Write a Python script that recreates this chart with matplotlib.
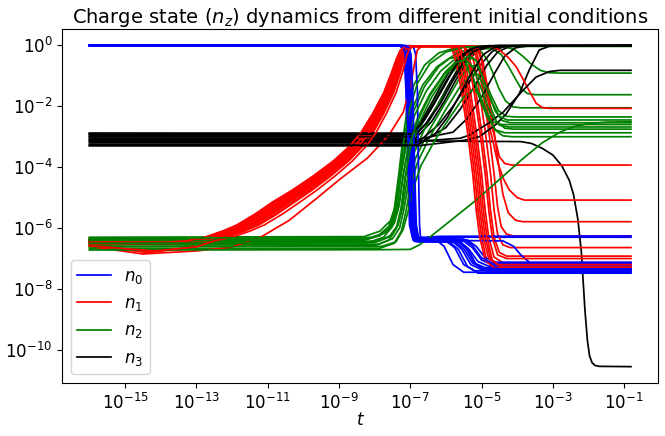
import numpy as np
import matplotlib
matplotlib.use('Agg')
import matplotlib.pyplot as plt

# all curves are digitised knots (log10 t, log10 n_z), one list per run
# n0 : neutral fraction
n0_runs = [
    [(-16, 0), (-7.32, -0.01), (-7.22, -0.08), (-7.17, -0.3), (-7.12, -1.5), (-7.07, -4.0), (-7.02, -5.9), (-6.94, -6.3), (-0.81, -6.3)],
    [(-16, 0), (-7.28, -0.01), (-7.18, -0.08), (-7.13, -0.3), (-7.08, -1.5), (-7.03, -4.0), (-6.98, -5.9), (-6.9, -6.35), (-6.3, -6.37), (-6.05, -6.6), (-5.8, -7.2), (-5.5, -7.45), (-0.81, -7.45)],
    [(-16, 0), (-7.25, -0.01), (-7.15, -0.08), (-7.1, -0.3), (-7.05, -1.5), (-7.0, -4.0), (-6.95, -5.9), (-6.87, -6.4), (-6.0, -6.42), (-5.75, -6.65), (-5.5, -7.2), (-5.2, -7.4), (-0.81, -7.4)],
    [(-16, 0), (-7.22, -0.01), (-7.12, -0.08), (-7.07, -0.3), (-7.02, -1.5), (-6.97, -4.0), (-6.92, -5.9), (-6.84, -6.42), (-5.8, -6.45), (-5.55, -6.7), (-5.3, -7.2), (-5.0, -7.36), (-0.81, -7.36)],
    [(-16, 0), (-7.2, -0.01), (-7.1, -0.08), (-7.05, -0.3), (-7.0, -1.5), (-6.95, -4.0), (-6.9, -5.9), (-6.82, -6.38), (-5.7, -6.41), (-5.45, -6.65), (-5.2, -7.15), (-4.9, -7.3), (-0.81, -7.3)],
    [(-16, 0), (-7.18, -0.01), (-7.08, -0.08), (-7.03, -0.3), (-6.98, -1.5), (-6.93, -4.0), (-6.88, -5.9), (-6.8, -6.45), (-5.6, -6.47), (-5.35, -6.7), (-5.1, -7.1), (-4.8, -7.25), (-0.81, -7.25)],
    [(-16, 0), (-7.3, -0.01), (-7.2, -0.08), (-7.15, -0.3), (-7.1, -1.5), (-7.05, -4.0), (-7.0, -5.9), (-6.92, -6.4), (-5.5, -6.43), (-5.25, -6.65), (-5.0, -7.05), (-4.7, -7.2), (-0.81, -7.2)],
    [(-16, 0), (-7.16, -0.01), (-7.06, -0.08), (-7.01, -0.3), (-6.96, -1.5), (-6.91, -4.0), (-6.86, -5.9), (-6.78, -6.36), (-5.4, -6.39), (-5.15, -6.6), (-4.9, -6.97), (-4.6, -7.12), (-0.81, -7.12)],
    [(-16, 0), (-7.0, -0.01), (-6.9, -0.08), (-6.85, -0.3), (-6.8, -1.5), (-6.77, -4.0), (-6.74, -5.9), (-6.7, -6.45), (-6.5, -6.3), (-6.2, -6.27), (-0.81, -6.26)],
    [(-16, 0), (-7.24, -0.01), (-7.14, -0.08), (-7.09, -0.3), (-7.04, -1.5), (-6.99, -4.0), (-6.94, -5.9), (-6.86, -6.4), (-4.4, -6.42), (-4.1, -6.6), (-3.9, -6.88), (-3.68, -7.1)],
    [(-16, 0), (-7.26, -0.01), (-7.16, -0.08), (-7.11, -0.3), (-7.06, -1.5), (-7.01, -4.0), (-6.96, -5.9), (-6.88, -6.44), (-5.9, -6.46), (-5.65, -6.7), (-5.4, -7.25), (-5.1, -7.48), (-0.81, -7.48)],
    [(-16, 0), (-7.21, -0.01), (-7.11, -0.08), (-7.06, -0.3), (-7.01, -1.5), (-6.96, -4.0), (-6.91, -5.9), (-6.83, -6.33), (-5.5, -6.36), (-5.25, -6.58), (-5.0, -6.98), (-4.7, -7.15), (-0.81, -7.15)],
    [(-16, 0), (-7.29, -0.01), (-7.19, -0.08), (-7.14, -0.3), (-7.09, -1.5), (-7.04, -4.0), (-6.99, -5.9), (-6.91, -6.37), (-5.65, -6.4), (-5.4, -6.65), (-5.15, -7.2), (-4.85, -7.42), (-0.81, -7.42)],
    [(-16, 0), (-7.13, -0.01), (-7.03, -0.08), (-6.98, -0.3), (-6.93, -1.5), (-6.88, -4.0), (-6.83, -5.9), (-6.75, -6.41), (-5.75, -6.44), (-5.5, -6.68), (-5.25, -7.15), (-4.95, -7.33), (-0.81, -7.33)],
]

# n1 : digitised centre line of the red band, plus how wide the band is
# at each knot (1 = widest, lower part) and where each run sits in it
n1_rise = [(-12.95, -6.42), (-12.45, -6.3), (-11.95, -6.1), (-11.55, -5.9), (-11.05, -5.55), (-10.55, -5.15),
           (-10.02, -4.75), (-9.48, -4.3), (-8.94, -3.8), (-8.5, -3.3), (-8.2, -2.85), (-7.9, -2.25),
           (-7.6, -1.55), (-7.4, -0.9), (-7.28, -0.45), (-7.18, -0.15), (-7.05, -0.03)]
n1_spread = [1, 1, 1, 1, 1, 1, 0.9, 0.8, 0.7, 0.6, 0.55, 0.5, 0.45, 0.4, 0.35, 0.3, 0.3]
n1_shift = [-0.28, -0.16, -0.04, 0.06, 0.16, 0.24, -0.22, 0.3, None, 0.0, -0.1, 0.11, -0.32, 0.45]
n1_start = [
    [(-16, -6.45), (-13.5, -6.45)],
    [(-16, -6.5), (-14.5, -6.78), (-13.4, -6.7)],
    [(-16, -6.4), (-13.5, -6.42)],
    [(-16, -6.55), (-13.5, -6.5)],
    [(-16, -6.38), (-13.5, -6.4)],
    [(-16, -6.6), (-14.3, -6.8), (-13.3, -6.65)],
    [(-16, -6.42), (-13.8, -6.43)],
    [(-16, -6.48), (-13.3, -6.47)],
    [],
    [(-16, -6.35), (-13.5, -6.38)],
    [(-16, -6.52), (-13.5, -6.5)],
    [(-16, -6.44), (-13.5, -6.44)],
    [(-16, -6.46), (-13.8, -6.46)],
    [(-16, -6.58), (-14.2, -6.75), (-13.0, -6.62)],
]
n1_late_rise = [(-16, -6.6), (-14.5, -6.85), (-13, -6.75), (-12, -6.62), (-11.2, -6.3), (-10.4, -5.75),
                (-9.6, -5.0), (-9.0, -4.42), (-8.2, -3.7), (-7.6, -2.95), (-7.2, -2.2), (-7.0, -1.4),
                (-6.88, -0.6), (-6.8, -0.15), (-6.68, -0.03)]
n1_fall = [
    [(-5.8, -0.03), (-5.65, -0.6), (-5.5, -1.6), (-5.35, -2.8), (-5.2, -4.2), (-5.1, -5.4), (-5.0, -6.3), (-4.85, -7.1), (-4.6, -7.35), (-0.81, -7.35)],
    [(-5.7, -0.03), (-5.55, -0.6), (-5.4, -1.6), (-5.25, -2.8), (-5.1, -4.2), (-5.0, -5.4), (-4.9, -6.3), (-4.75, -7.0), (-4.5, -7.25), (-0.81, -7.25)],
    [(-5.6, -0.03), (-5.45, -0.6), (-5.3, -1.6), (-5.15, -2.8), (-5.0, -4.2), (-4.9, -5.4), (-4.8, -6.3), (-4.65, -6.95), (-4.4, -7.14), (-0.81, -7.14)],
    [(-5.45, -0.03), (-5.3, -0.6), (-5.15, -1.6), (-5.0, -2.8), (-4.85, -4.2), (-4.75, -5.4), (-4.65, -6.3), (-4.5, -6.8), (-4.3, -6.92), (-0.81, -6.92)],
    [(-5.35, -0.03), (-5.2, -0.6), (-5.05, -1.6), (-4.9, -2.8), (-4.75, -4.2), (-4.65, -5.4), (-4.55, -6.2), (-4.4, -6.55), (-4.2, -6.64), (-0.81, -6.64)],
    [(-5.25, -0.03), (-5.1, -0.6), (-4.95, -1.6), (-4.8, -2.8), (-4.65, -4.2), (-4.55, -5.3), (-4.45, -5.95), (-4.3, -6.2), (-4.1, -6.26), (-0.81, -6.26)],
    [(-5.1, -0.03), (-4.95, -0.6), (-4.8, -1.6), (-4.65, -2.8), (-4.5, -4.1), (-4.4, -4.9), (-4.25, -5.5), (-4.05, -5.74), (-3.85, -5.79), (-0.81, -5.79)],
    [(-5.2, -0.03), (-5.05, -0.6), (-4.9, -1.6), (-4.75, -2.8), (-4.54, -3.88), (-4.38, -4.4), (-4.22, -4.75), (-4.0, -5.0), (-3.8, -5.08), (-0.81, -5.08)],
    [(-5.15, -0.03), (-5.0, -0.5), (-4.85, -1.5), (-4.68, -2.79), (-4.5, -3.66), (-4.35, -3.88), (-4.15, -3.93), (-0.81, -3.93)],
    [(-4.75, -0.03), (-4.5, -0.15), (-4.25, -0.4), (-4.03, -0.7), (-3.84, -1.1), (-3.66, -1.5), (-3.47, -1.9), (-3.3, -2.04), (-3.1, -2.07), (-0.81, -2.07)],
    [(-5.85, -0.03), (-5.7, -0.6), (-5.55, -1.6), (-5.4, -2.8), (-5.25, -4.2), (-5.15, -5.4), (-5.05, -6.3), (-4.9, -7.05), (-4.65, -7.3), (-0.81, -7.3)],
    [(-5.75, -0.03), (-5.6, -0.6), (-5.45, -1.6), (-5.3, -2.8), (-5.15, -4.2), (-5.05, -5.4), (-4.95, -6.3), (-4.8, -7.0), (-4.55, -7.2), (-0.81, -7.2)],
    [(-5.5, -0.03), (-5.35, -0.6), (-5.2, -1.6), (-5.05, -2.8), (-4.9, -4.2), (-4.8, -5.4), (-4.7, -6.3), (-4.55, -6.88), (-4.3, -7.0), (-0.81, -7.0)],
    [(-5.65, -0.03), (-5.5, -0.6), (-5.35, -1.6), (-5.2, -2.8), (-5.05, -4.2), (-4.95, -5.4), (-4.85, -6.3), (-4.7, -7.05), (-4.45, -7.28), (-0.81, -7.28)],
]

# n2
n2_runs = [
    [(-16, -6.4), (-8.4, -6.38), (-7.9, -6.25), (-7.6, -5.95), (-7.45, -5.4), (-7.33, -4.3), (-7.22, -3.2), (-7.1, -2.2), (-6.9, -1.3), (-6.6, -0.65), (-6.2, -0.25), (-5.7, -0.07), (-5.2, -0.03), (-0.81, -0.03)],
    [(-16, -6.5), (-8.2, -6.48), (-7.75, -6.3), (-7.5, -5.95), (-7.38, -5.4), (-7.26, -4.2), (-7.12, -3.1), (-6.92, -2.2), (-6.6, -1.35), (-6.2, -0.7), (-5.7, -0.25), (-5.2, -0.08), (-4.4, -0.05), (-4.1, -0.12), (-3.85, -0.35), (-3.6, -0.62), (-3.35, -0.82), (-3.1, -0.9), (-2.8, -0.91), (-0.81, -0.91)],
    [(-16, -6.35), (-8.1, -6.33), (-7.7, -6.15), (-7.45, -5.85), (-7.32, -5.3), (-7.2, -4.3), (-7.05, -3.3), (-6.8, -2.4), (-6.45, -1.6), (-6.0, -0.85), (-5.55, -0.35), (-5.1, -0.12), (-4.7, -0.1), (-4.45, -0.3), (-4.25, -0.68), (-4.05, -1.1), (-3.9, -1.4), (-3.72, -1.58), (-3.5, -1.62), (-0.81, -1.62)],
    [(-16, -6.6), (-8.0, -6.58), (-7.6, -6.4), (-7.38, -6.0), (-7.25, -5.4), (-7.14, -4.4), (-6.98, -3.5), (-6.72, -2.7), (-6.35, -1.85), (-5.9, -1.0), (-5.5, -0.45), (-5.2, -0.2), (-5.0, -0.22), (-4.85, -0.45), (-4.7, -0.85), (-4.52, -1.4), (-4.33, -1.82), (-4.12, -2.02), (-3.9, -2.05), (-0.81, -2.05)],
    [(-16, -6.45), (-7.95, -6.43), (-7.55, -6.25), (-7.34, -5.9), (-7.22, -5.35), (-7.1, -4.5), (-6.92, -3.6), (-6.62, -2.8), (-6.2, -1.9), (-5.75, -1.05), (-5.45, -0.55), (-5.25, -0.4), (-5.1, -0.55), (-4.95, -0.95), (-4.75, -1.6), (-4.52, -2.15), (-4.3, -2.33), (-4.05, -2.35), (-0.81, -2.35)],
    [(-16, -6.55), (-7.9, -6.53), (-7.5, -6.35), (-7.3, -6.0), (-7.18, -5.4), (-7.05, -4.55), (-6.85, -3.7), (-6.5, -2.85), (-6.05, -1.95), (-5.65, -1.15), (-5.35, -0.7), (-5.15, -0.65), (-5.0, -0.9), (-4.82, -1.5), (-4.62, -2.15), (-4.42, -2.47), (-4.2, -2.54), (-0.81, -2.54)],
    [(-16, -6.3), (-8.3, -6.28), (-7.85, -6.1), (-7.55, -5.75), (-7.4, -5.2), (-7.28, -4.1), (-7.15, -3.0), (-6.95, -2.1), (-6.65, -1.3), (-6.25, -0.7), (-5.9, -0.42), (-5.65, -0.4), (-5.45, -0.6), (-5.2, -1.3), (-4.95, -2.05), (-4.7, -2.5), (-4.45, -2.6), (-0.81, -2.6)],
    [(-16, -6.68), (-7.85, -6.66), (-7.45, -6.5), (-7.25, -6.1), (-7.12, -5.45), (-7.0, -4.65), (-6.8, -3.85), (-6.45, -3.0), (-6.0, -2.1), (-5.6, -1.35), (-5.3, -0.95), (-5.1, -0.95), (-4.95, -1.3), (-4.78, -1.95), (-4.58, -2.5), (-4.35, -2.72), (-4.1, -2.75), (-0.81, -2.75)],
    [(-16, -6.72), (-8.0, -6.71), (-7.0, -6.7), (-6.74, -6.55), (-6.4, -6.25), (-5.15, -5.08), (-3.89, -3.77), (-3.3, -3.2), (-2.8, -2.85), (-2.4, -2.66), (-2.0, -2.57), (-1.5, -2.52), (-0.81, -2.51)],
    [(-16, -6.38), (-8.2, -6.36), (-7.8, -6.2), (-7.52, -5.85), (-7.38, -5.3), (-7.25, -4.2), (-7.1, -3.2), (-6.88, -2.3), (-6.55, -1.5), (-6.15, -0.85), (-5.8, -0.5), (-5.55, -0.45), (-5.35, -0.7), (-5.1, -1.5), (-4.85, -2.35), (-4.6, -2.78), (-4.35, -2.87), (-0.81, -2.87)],
    [(-16, -6.62), (-7.8, -6.6), (-7.4, -6.45), (-7.2, -6.05), (-7.06, -5.45), (-6.92, -4.7), (-6.7, -3.95), (-6.3, -3.1), (-5.85, -2.3), (-5.5, -1.7), (-5.25, -1.45), (-5.05, -1.6), (-4.85, -2.2), (-4.62, -2.78), (-4.4, -2.97), (-4.15, -3.0), (-0.81, -3.0)],
    [(-16, -6.42), (-8.3, -6.4), (-7.85, -6.25), (-7.55, -5.9), (-7.42, -5.35), (-7.3, -4.2), (-7.18, -3.1), (-7.02, -2.1), (-6.8, -1.25), (-6.45, -0.6), (-6.0, -0.22), (-5.5, -0.06), (-5.0, -0.03), (-0.81, -0.03)],
    [(-16, -6.5), (-8.0, -6.48), (-7.6, -6.3), (-7.38, -5.95), (-7.26, -5.35), (-7.15, -4.35), (-7.0, -3.4), (-6.75, -2.55), (-6.4, -1.7), (-5.95, -0.9), (-5.6, -0.5), (-5.35, -0.35), (-5.15, -0.5), (-4.95, -1.1), (-4.72, -1.85), (-4.5, -2.33), (-4.28, -2.45), (-0.81, -2.45)],
    [(-16, -6.33), (-8.1, -6.31), (-7.7, -6.15), (-7.45, -5.8), (-7.32, -5.25), (-7.2, -4.25), (-7.05, -3.35), (-6.8, -2.5), (-6.45, -1.65), (-6.05, -0.95), (-5.7, -0.55), (-5.45, -0.48), (-5.25, -0.7), (-5.0, -1.45), (-4.75, -2.25), (-4.5, -2.62), (-4.25, -2.68), (-0.81, -2.68)],
]

# n3
n3_runs = [
    [(-16, -3.12), (-7.1, -3.12), (-6.9, -3.16), (-6.5, -3.14), (-3.9, -3.16), (-3.6, -3.22), (-3.3, -3.38), (-3.0, -3.6), (-2.75, -3.95), (-2.54, -4.43), (-2.42, -4.9), (-2.3, -5.7), (-2.2, -6.8), (-2.1, -8.7), (-2.03, -9.7), (-1.97, -10.2), (-1.9, -10.42), (-1.82, -10.51), (-1.7, -10.54), (-0.81, -10.55)],
    [(-16, -2.95), (-7.1, -2.96), (-6.95, -2.95), (-6.7, -2.6), (-6.4, -2.05), (-6.1, -1.4), (-5.8, -0.8), (-5.5, -0.35), (-5.2, -0.1), (-4.9, -0.03), (-4.5, -0.01), (-0.81, -0.01)],
    [(-16, -3.0), (-7.05, -3.0), (-6.9, -3.0), (-6.55, -2.55), (-6.25, -2.0), (-5.95, -1.35), (-5.65, -0.75), (-5.35, -0.3), (-5.05, -0.08), (-4.7, -0.02), (-0.81, -0.01)],
    [(-16, -3.05), (-6.85, -3.05), (-6.4, -2.5), (-6.05, -1.85), (-5.75, -1.2), (-5.45, -0.6), (-5.15, -0.2), (-4.8, -0.05), (-4.5, -0.01), (-0.81, -0.01)],
    [(-16, -2.9), (-7.0, -2.92), (-6.95, -2.9), (-6.6, -2.45), (-6.3, -1.85), (-6.0, -1.2), (-5.7, -0.6), (-5.4, -0.2), (-5.1, -0.05), (-4.8, -0.01), (-0.81, -0.01)],
    [(-16, -3.2), (-6.8, -3.2), (-6.2, -2.6), (-5.8, -2.0), (-5.4, -1.3), (-5.0, -0.6), (-4.7, -0.2), (-4.4, -0.05), (-4.1, -0.01), (-0.81, -0.01)],
    [(-16, -3.25), (-6.8, -3.25), (-6.0, -2.7), (-5.6, -2.1), (-5.2, -1.35), (-4.85, -0.65), (-4.55, -0.22), (-4.25, -0.05), (-3.9, -0.01), (-0.81, -0.01)],
    [(-16, -3.1), (-6.85, -3.1), (-5.8, -2.85), (-5.4, -2.4), (-5.0, -1.7), (-4.65, -0.95), (-4.35, -0.35), (-4.05, -0.08), (-3.7, -0.02), (-0.81, -0.01)],
    [(-16, -3.3), (-6.8, -3.3), (-5.5, -3.12), (-5.06, -3.0), (-4.6, -2.6), (-4.31, -2.25), (-3.94, -1.58), (-3.66, -0.8), (-3.38, -0.15), (-3.1, -0.03), (-2.7, -0.01), (-0.81, -0.01)],
    [(-16, -3.15), (-6.8, -3.15), (-5.6, -3.05), (-5.34, -2.95), (-4.8, -2.55), (-4.4, -2.2), (-3.84, -1.48), (-3.47, -1.04), (-3.1, -0.86), (-2.8, -0.82), (-0.81, -0.82)],
    [(-16, -2.88), (-7.0, -2.88), (-6.75, -2.6), (-6.45, -2.0), (-6.15, -1.35), (-5.85, -0.75), (-5.55, -0.3), (-5.25, -0.08), (-4.9, -0.02), (-0.81, -0.01)],
    [(-16, -3.0), (-6.9, -3.0), (-6.5, -2.5), (-6.15, -1.9), (-5.85, -1.25), (-5.55, -0.65), (-5.25, -0.22), (-4.95, -0.05), (-4.6, -0.01), (-0.81, -0.01)],
    [(-16, -2.92), (-6.95, -2.92), (-6.65, -2.5), (-6.35, -1.95), (-6.05, -1.35), (-5.75, -0.7), (-5.45, -0.25), (-5.15, -0.06), (-4.85, -0.02), (-0.81, -0.01)],
    [(-16, -3.28), (-6.8, -3.28), (-6.3, -2.9), (-5.95, -2.35), (-5.6, -1.6), (-5.25, -0.85), (-4.95, -0.3), (-4.65, -0.07), (-4.3, -0.02), (-0.81, -0.01)],
]

labels = ['$n_0$', '$n_1$', '$n_2$', '$n_3$']
colors = ['blue', 'red', 'green', 'black']


def xy(knots):
    lt, ln = np.array(knots, dtype=float).T
    return 10 ** lt, 10 ** ln


fig = plt.figure(figsize=(6.65, 4.36), dpi=100)
ax = fig.add_axes([0.0937, 0.1222, 0.8958, 0.8106])

for i in range(len(n0_runs)):
    s = n1_shift[i]
    if s is None:
        red = n1_late_rise + n1_fall[i]
    else:
        red = n1_start[i] + [(t + s * w, n) for (t, n), w in zip(n1_rise, n1_spread)] + n1_fall[i]
    runs = [n0_runs[i], red, n2_runs[i], n3_runs[i]]
    for k in range(4):
        ax.plot(*xy(runs[k]), color=colors[k], lw=1.25,
                label=labels[k] if i == 0 else None)

ax.set_xscale('log')
ax.set_yscale('log')
ax.set_xticks([1e-15, 1e-13, 1e-11, 1e-9, 1e-7, 1e-5, 1e-3, 1e-1])
ax.set_yticks([1e0, 1e-2, 1e-4, 1e-6, 1e-8, 1e-10])
ax.minorticks_off()
ax.tick_params(labelsize=12)
ax.set_xlabel('$t$', fontsize=12, labelpad=-1)
ax.set_title('Charge state ($n_z$) dynamics from different initial conditions', fontsize=14, pad=4)
ax.legend(loc='lower left', fontsize=12)

fig.savefig('out.png', dpi=100)
